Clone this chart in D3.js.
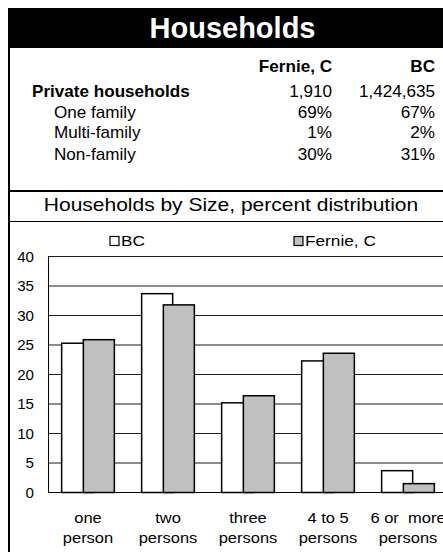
<!DOCTYPE html>
<html><head><meta charset="utf-8">
<script src="https://cdn.jsdelivr.net/npm/d3@7"></script>
<style>
html,body{margin:0;padding:0;background:#fff;}
svg{display:block;font-family:"Liberation Sans",Arial,sans-serif;}
text{white-space:pre;}
</style></head>
<body><svg id="c" width="443" height="552"></svg>
<script>
const title = "Households";
const subtitle = "Households by Size, percent distribution";
const tableHeaders = ["Fernie, C", "BC"];
const tableRows = ["Private households", "One family", "Multi-family", "Non-family"];
const fernieTable = ["1,910", "69%", "1%", "30%"];
const bcTable = ["1,424,635", "67%", "2%", "31%"];

const categories = [["one","person"],["two","persons"],["three","persons"],["4 to 5","persons"],["6 or  more","persons"]];
const seriesNames = ["BC", "Fernie, C"];
const bcValues = [25.3, 33.7, 15.2, 22.3, 3.7];
const fernieValues = [25.9, 31.8, 16.4, 23.6, 1.5];
const yTicks = [0, 5, 10, 15, 20, 25, 30, 35, 40];

const svg = d3.select("#c");
const colors = ["#ffffff", "#c0c0c0"];

function txt(x, y, s, opts) {
  const t = svg.append("text")
    .attr("transform", `translate(${x},${y}) scale(${opts.sx || 1},1)`)
    .attr("text-anchor", opts.anchor || "start")
    .attr("font-size", opts.size)
    .attr("font-weight", opts.bold ? "bold" : "normal")
    .attr("fill", opts.fill || "#000")
    .text(s);
  return t;
}

// header
svg.append("rect").attr("x", 8).attr("y", 8).attr("width", 440).attr("height", 40).attr("fill", "#000");
txt(232.5, 38, title, {size: 29, bold: true, anchor: "middle", fill: "#fff"});

// borders
svg.append("line").attr("x1", 9).attr("x2", 9).attr("y1", 48).attr("y2", 552).attr("stroke", "#000").attr("stroke-width", 2);
svg.append("line").attr("x1", 8).attr("x2", 443).attr("y1", 191).attr("y2", 191).attr("stroke", "#000").attr("stroke-width", 2);
svg.append("line").attr("x1", 8).attr("x2", 443).attr("y1", 221.5).attr("y2", 221.5).attr("stroke", "#000").attr("stroke-width", 1);

// table
const colRight = [332, 435];
const rowY = [97, 118, 138, 160];
tableHeaders.forEach((h, i) => txt(colRight[i], 72, h, {size: 16, bold: true, anchor: "end", sx: 1.07}));
tableRows.forEach((r, i) => {
  txt(i === 0 ? 32 : 54, rowY[i], r, {size: 16, bold: i === 0, sx: 1.07});
  txt(colRight[0], rowY[i], fernieTable[i], {size: 16, anchor: "end", sx: 1.07});
  txt(colRight[1], rowY[i], bcTable[i], {size: 16, anchor: "end", sx: 1.07});
});

// subtitle
txt(231, 211, subtitle, {size: 17.5, anchor: "middle", sx: 1.2});

// chart
const x0 = d3.scaleBand().domain(d3.range(categories.length)).range([48, 448]).padding(0);
const y = d3.scaleLinear().domain([0, 40]).range([492.5, 256.5]);
const bw = x0.bandwidth() * 0.3875;
const step = bw * 0.7;
const groupW = step + bw;

// gridlines
svg.append("g").selectAll("line").data(yTicks.filter(d => d > 0)).join("line")
  .attr("x1", 48).attr("x2", 448)
  .attr("y1", d => y(d)).attr("y2", d => y(d))
  .attr("stroke", "#1a1a1a").attr("stroke-width", 1);

// y labels
yTicks.forEach(d => txt(34, y(d) + 5, String(d), {size: 14, anchor: "end", sx: 1.08}));

// bars
const series = [bcValues, fernieValues];
series.forEach((vals, si) => {
  svg.append("g").selectAll("rect").data(vals).join("rect")
    .attr("x", (d, i) => x0(i) + x0.bandwidth() / 2 - groupW / 2 + si * step)
    .attr("y", d => y(d))
    .attr("width", bw)
    .attr("height", d => y(0) - y(d))
    .attr("fill", colors[si])
    .attr("stroke", "#000").attr("stroke-width", 1.5);
});

// axes lines
svg.append("line").attr("x1", 48.5).attr("x2", 48.5).attr("y1", y(40)).attr("y2", y(0)).attr("stroke", "#000").attr("stroke-width", 1);
svg.append("line").attr("x1", 48).attr("x2", 448).attr("y1", y(0)).attr("y2", y(0)).attr("stroke", "#000").attr("stroke-width", 1);

// x labels
categories.forEach((lines, i) => {
  const cx = x0(i) + x0.bandwidth() / 2;
  lines.forEach((l, j) => txt(cx, 523 + j * 20, l, {size: 15, anchor: "middle", sx: 1.1}));
});

// legend
const legX = [110, 294];
seriesNames.forEach((n, i) => {
  svg.append("rect").attr("x", legX[i]).attr("y", 236.5).attr("width", 9).attr("height", 9)
    .attr("fill", colors[i]).attr("stroke", "#000").attr("stroke-width", 1.2);
  txt(legX[i] + 11, 245.5, n, {size: 15, sx: 1.15});
});
</script>
</body></html>
